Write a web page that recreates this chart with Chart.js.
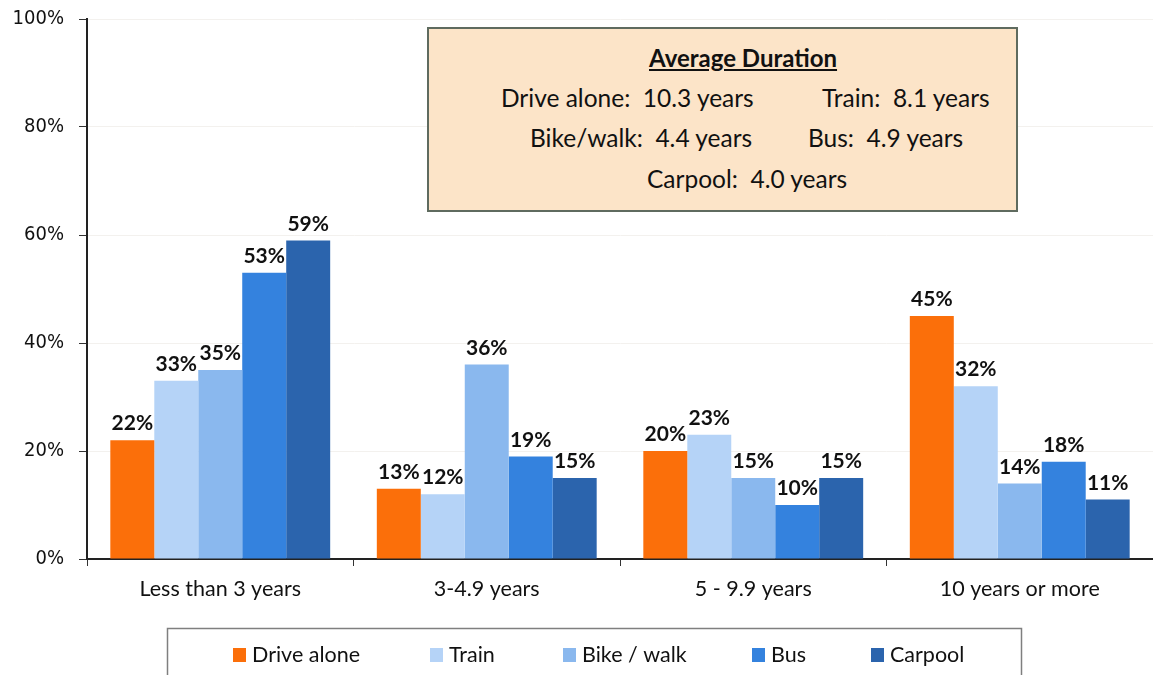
<!DOCTYPE html>
<html>
<head>
<meta charset="utf-8">
<script src="https://cdn.jsdelivr.net/npm/chart.js@4"></script>
<style>
  html, body { margin: 0; padding: 0; background: #fff; }
  #wrap { position: relative; width: 1153px; height: 675px; overflow: hidden; }
  #infoBox {
    position: absolute; left: 427px; top: 27px; width: 591px; height: 185px;
    background: #fce4c8; border: 2px solid #5f6b5f; box-sizing: border-box;
    font-family: "Lato", "Liberation Sans", sans-serif; font-size: 24.5px; color: #111;
  }
  #infoBox span { position: absolute; white-space: nowrap; line-height: 1; }
  #infoBox .title { font-weight: bold; text-decoration: underline; font-size: 24px; }
</style>
</head>
<body>
<div id="wrap">
  <canvas id="chart" width="1153" height="675"></canvas>
  <div id="infoBox">
    <span class="title" style="left:220px;top:17px">Average Duration</span>
    <span style="left:72px;top:57px">Drive alone:&nbsp; 10.3 years</span>
    <span style="left:393px;top:57px">Train:&nbsp; 8.1 years</span>
    <span style="left:101px;top:97px">Bike/walk:&nbsp; 4.4 years</span>
    <span style="left:379px;top:97px">Bus:&nbsp; 4.9 years</span>
    <span style="left:218px;top:138px">Carpool:&nbsp; 4.0 years</span>
  </div>
</div>
<script>
const categories = ["Less than 3 years", "3-4.9 years", "5 - 9.9 years", "10 years or more"];
const seriesNames = ["Drive alone", "Train", "Bike / walk", "Bus", "Carpool"];
const seriesColors = ["#fb6f0a", "#b5d3f7", "#8ab8ee", "#3482de", "#2b64ad"];
const driveAlone = [22, 13, 20, 45];
const train = [33, 12, 23, 32];
const bikeWalk = [35, 36, 15, 14];
const bus = [53, 19, 10, 18];
const carpool = [59, 15, 15, 11];
const yTicks = [0, 20, 40, 60, 80, 100];

const seriesValues = [driveAlone, train, bikeWalk, bus, carpool];
const textFont = '"Lato", "Liberation Sans", sans-serif';

const barLabels = {
  id: "barLabels",
  afterDatasetsDraw(chart) {
    const ctx = chart.ctx;
    ctx.save();
    ctx.fillStyle = "#111";
    ctx.font = "bold 21px " + textFont;
    ctx.textAlign = "center";
    ctx.textBaseline = "bottom";
    chart.data.datasets.forEach((ds, i) => {
      chart.getDatasetMeta(i).data.forEach((bar, j) => {
        ctx.fillText(ds.data[j] + "%", bar.x, bar.y - 6);
      });
    });
    ctx.restore();
  },
};

const boxLegend = {
  id: "boxLegend",
  afterDraw(chart) {
    const ctx = chart.ctx;
    ctx.save();
    ctx.strokeStyle = "#7f7f7f";
    ctx.lineWidth = 1.5;
    ctx.strokeRect(167.5, 628.5, 854, 60);
    ctx.font = "21.5px " + textFont;
    ctx.textBaseline = "middle";
    ctx.textAlign = "left";
    const xs = [233, 430, 563, 752, 871];
    chart.data.datasets.forEach((ds, i) => {
      ctx.fillStyle = ds.backgroundColor;
      ctx.fillRect(xs[i], 648, 13, 14);
      ctx.fillStyle = "#111";
      ctx.fillText(ds.label, xs[i] + 19, 655);
    });
    ctx.restore();
  },
};

new Chart(document.getElementById("chart"), {
  type: "bar",
  data: {
    labels: categories,
    datasets: seriesNames.map((name, i) => ({
      label: name,
      data: seriesValues[i],
      backgroundColor: seriesColors[i],
      borderWidth: 0,
      categoryPercentage: 0.825,
      barPercentage: 1,
    })),
  },
  options: {
    responsive: false,
    animation: false,
    layout: { padding: { top: 19, right: 0, bottom: 60, left: 0 } },
    scales: {
      x: {
        offset: true,
        grid: { display: true, drawOnChartArea: false, color: "#333", tickLength: 7, offset: true },
        border: { color: "#222", width: 2 },
        ticks: { color: "#111", font: { family: textFont, size: 21.5 }, padding: 10 },
        afterFit: (s) => { s.height = 56; },
      },
      y: {
        min: 0,
        max: 100,
        afterBuildTicks: (s) => { s.ticks = yTicks.map((v) => ({ value: v })); },
        grid: { color: "#f3f1ee", tickLength: 8, tickColor: "#333", drawTicks: true },
        border: { color: "#222", width: 2 },
        ticks: {
          color: "#111",
          font: { family: '"DejaVu Sans Condensed", "DejaVu Sans", sans-serif', size: 20 },
          padding: 15,
          callback: (v) => v + "%",
        },
        afterFit: (s) => {
          s.width = 87;
          s.paddingTop = 0;
          s.paddingBottom = 0;
        },
      },
    },
    plugins: {
      legend: { display: false },
      tooltip: { enabled: false },
    },
  },
  plugins: [barLabels, boxLegend],
});
</script>
</body>
</html>
